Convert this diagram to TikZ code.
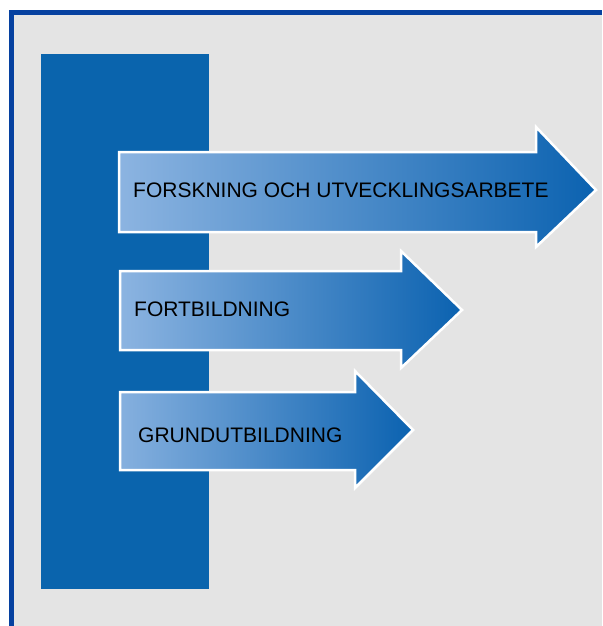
\documentclass[tikz,border=0pt]{standalone}
\usepackage{fontspec}
\setmainfont{Liberation Sans}
\usepackage{xcolor}
\usetikzlibrary{positioning}

\definecolor{framebl}{HTML}{0641A0}
\definecolor{barbl}{HTML}{0A64AD}
\definecolor{bggray}{HTML}{E4E4E4}
\definecolor{lightbl}{HTML}{8CB4E1}
\definecolor{darkbl}{HTML}{0B62B0}

\tikzset{
  arrowbox/.style={draw=white, line width=2.5pt, line join=miter},
  label/.style={inner sep=0pt, anchor=west, font=\fontsize{21}{24}\selectfont, text=black}
}

\begin{document}
\begin{tikzpicture}[x=1pt, y=-1pt]
  \useasboundingbox (0,0) rectangle (602,626);
  % background and frame
  \fill[bggray] (9.5,10) rectangle (602,626);
  \draw[framebl, line width=5pt] (11.8,626) -- (11.8,12.3) -- (602,12.3);
  % vertical bar
  \fill[barbl] (40.5,54) rectangle (208.7,589);

  % arrows
  \shadedraw[arrowbox, left color=lightbl, middle color=lightbl!94!darkbl, right color=darkbl]
    (119,152) -- (536,152) -- (536,127) -- (596,190) -- (536,247) -- (536,232) -- (119,232) -- cycle;
  \shadedraw[arrowbox, left color=lightbl, right color=darkbl]
    (120,271) -- (401,271) -- (401,251) -- (462,310) -- (401,368) -- (401,350) -- (120,350) -- cycle;
  \shadedraw[arrowbox, left color=lightbl!95!darkbl, right color=darkbl]
    (120,392) -- (355,392) -- (355,371) -- (413,430) -- (355,488) -- (355,470) -- (120,470) -- cycle;

  \node[label] (forsk) at (133,190.5) {FORSKNING OCH UTVECKLINGSARBETE};
  \node[label] (fortb) at (134,309.5) {FORTBILDNING};
  \node[label] (grund) at (138,435) {GRUNDUTBILDNING};
\end{tikzpicture}
\end{document}
